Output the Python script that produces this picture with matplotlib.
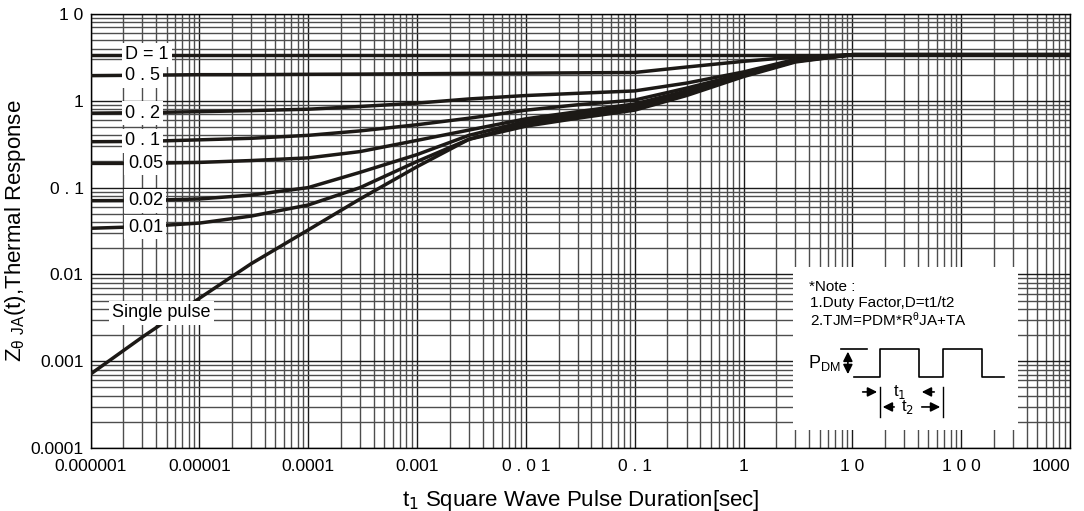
import matplotlib
matplotlib.use("Agg")
import matplotlib.pyplot as plt
from matplotlib.patches import Rectangle

plt.rcParams['font.family'] = ['Liberation Sans', 'DejaVu Sans']

# pulse duration [s]
t1 = [1e-6, 3e-6, 1e-5, 3e-5, 1e-4, 3e-4, 1e-3, 3e-3, 1e-2, 3e-2,
      0.1, 0.3, 1, 3, 10, 1000]

# thermal response for each duty factor
z_d1 = [3.4, 3.4, 3.4, 3.4, 3.4, 3.4, 3.4, 3.4, 3.4, 3.4, 3.4, 3.4, 3.4, 3.4, 3.4, 3.4]
z_d05 = [1.95, 1.97, 2.0, 2.0, 2.02, 2.03, 2.05, 2.07, 2.08, 2.1, 2.12, 2.45, 2.85, 3.2, 3.4, 3.4]
z_d02 = [0.72, 0.73, 0.75, 0.77, 0.80, 0.86, 0.94, 1.05, 1.15, 1.22, 1.3, 1.6, 2.15, 3.0, 3.4, 3.4]
z_d01 = [0.338, 0.34, 0.355, 0.37, 0.40, 0.45, 0.53, 0.63, 0.78, 0.90, 1.02, 1.4, 2.05, 2.95, 3.4, 3.4]
z_d005 = [0.19, 0.19, 0.195, 0.205, 0.22, 0.26, 0.35, 0.46, 0.62, 0.75, 0.92, 1.3, 2.0, 2.9, 3.4, 3.4]
z_d002 = [0.0707, 0.071, 0.074, 0.082, 0.10, 0.15, 0.24, 0.40, 0.58, 0.70, 0.86, 1.25, 1.98, 2.88, 3.4, 3.4]
z_d001 = [0.034, 0.0355, 0.039, 0.047, 0.063, 0.10, 0.20, 0.36, 0.55, 0.67, 0.82, 1.2, 1.95, 2.85, 3.4, 3.4]
z_single = [0.00071, 0.0019, 0.0053, 0.0133, 0.0325, 0.074, 0.174, 0.36, 0.51, 0.63, 0.78, 1.15, 1.9, 2.8, 3.4, 3.4]

series = [z_d1, z_d05, z_d02, z_d01, z_d005, z_d002, z_d001, z_single]
labels = ["D = 1", "0 . 5", "0 . 2", "0 . 1", "0.05", "0.02", "0.01", "Single pulse"]
# where each curve label sits
label_x = [3.3e-6, 3.0e-6, 3.0e-6, 3.0e-6, 3.2e-6, 3.2e-6, 3.2e-6, 4.5e-6]
label_y = [3.4, 1.95, 0.72, 0.345, 0.19, 0.0707, 0.035, 0.0036]

xticks = [1e-6, 1e-5, 1e-4, 1e-3, 1e-2, 1e-1, 1, 10, 100, 1000]
xticklabels = ["0.000001", "0.00001", "0.0001", "0.001", "0 . 0 1", "0 . 1",
               "1", "1 0", "1 0 0", "1000"]
yticks = [1e-4, 1e-3, 1e-2, 1e-1, 1, 10]
yticklabels = ["0.0001", "0.001", "0.01", "0 . 1", "1", "1 0"]

fig = plt.figure(figsize=(10.84, 5.11), dpi=100)
ax = fig.add_axes([0.0835, 0.1233, 0.9036, 0.8493])
ax.set_xscale("log")
ax.set_yscale("log")
ax.set_xlim(1e-6, 1000)
ax.set_ylim(1e-4, 10)

ax.grid(True, which="major", color="0.1", lw=1.0)
ax.grid(True, which="minor", color="0.3", lw=1.0)
ax.set_axisbelow(True)

for z in series:
    ax.plot(t1, z, color="#1c1916", lw=2.5, solid_capstyle="butt", zorder=3)

for lab, lx, ly in zip(labels, label_x, label_y):
    ax.text(lx, ly, lab, fontsize=13, ha="center", va="center", zorder=5,
            bbox=dict(facecolor="white", edgecolor="none", pad=2.5))

ax.set_xticks(xticks)
ax.set_xticklabels(xticklabels, fontsize=12.5)
ax.set_yticks(yticks)
ax.set_yticklabels(yticklabels, fontsize=12.5)
ax.tick_params(which="both", length=0, pad=5)
ax.tick_params(axis="x", pad=8)
ax.get_xticklabels()[-1].set_horizontalalignment("right")
for s in ax.spines.values():
    s.set_color("black")
    s.set_linewidth(1.0)

ax.set_xlabel("t$_1$ Square Wave Pulse Duration[sec]", fontsize=16, labelpad=10)
ax.set_ylabel("Z$_{\\mathregular{\\theta\\ JA}}$(t),Thermal Response", fontsize=16, labelpad=2)

# note box with the pulse sketch
ins = ax.inset_axes([0.717, 0.0415, 0.230, 0.376])
ins.set_xlim(0, 225)
ins.set_ylim(163, 0)
ins.axis("off")
ins.add_patch(Rectangle((0, 0), 225, 163, facecolor="white", edgecolor="none", zorder=0))
ins.text(16, 20, "*Note :", fontsize=11, va="center")
ins.text(17, 36, "1.Duty Factor,D=t1/t2", fontsize=11, va="center")
ins.text(17, 53, "2.TJM=PDM*R$\\mathregular{^{\\theta}}$JA+TA", fontsize=11, va="center")
ins.text(15, 96, "P$\\mathregular{_{DM}}$", fontsize=13, va="center")
wx = [61, 87, 87, 126, 126, 150, 150, 189, 189, 211]
wy = [110, 110, 82, 82, 110, 110, 82, 82, 110, 110]
ins.plot(wx, wy, color="black", lw=1.2)
ins.plot([48, 74], [82, 82], color="black", lw=1.2)
ins.annotate("", xy=(55, 82), xytext=(55, 110),
             arrowprops=dict(arrowstyle="<|-|>", color="black", lw=1.2, mutation_scale=14))
ins.annotate("", xy=(87, 125), xytext=(67, 125),
             arrowprops=dict(arrowstyle="-|>", color="black", lw=1.2, mutation_scale=14))
ins.annotate("", xy=(126, 125), xytext=(144, 125),
             arrowprops=dict(arrowstyle="-|>", color="black", lw=1.2, mutation_scale=14))
ins.text(107, 125, "t$_1$", fontsize=12, ha="center", va="center")
ins.plot([87, 87], [120, 150], color="black", lw=1.0)
ins.plot([150, 150], [120, 150], color="black", lw=1.0)
ins.annotate("", xy=(87, 140), xytext=(104, 140),
             arrowprops=dict(arrowstyle="-|>", color="black", lw=1.2, mutation_scale=14))
ins.annotate("", xy=(150, 140), xytext=(126, 140),
             arrowprops=dict(arrowstyle="-|>", color="black", lw=1.2, mutation_scale=14))
ins.text(115, 140, "t$_2$", fontsize=12, ha="center", va="center")

fig.savefig("out.png", dpi=100)
